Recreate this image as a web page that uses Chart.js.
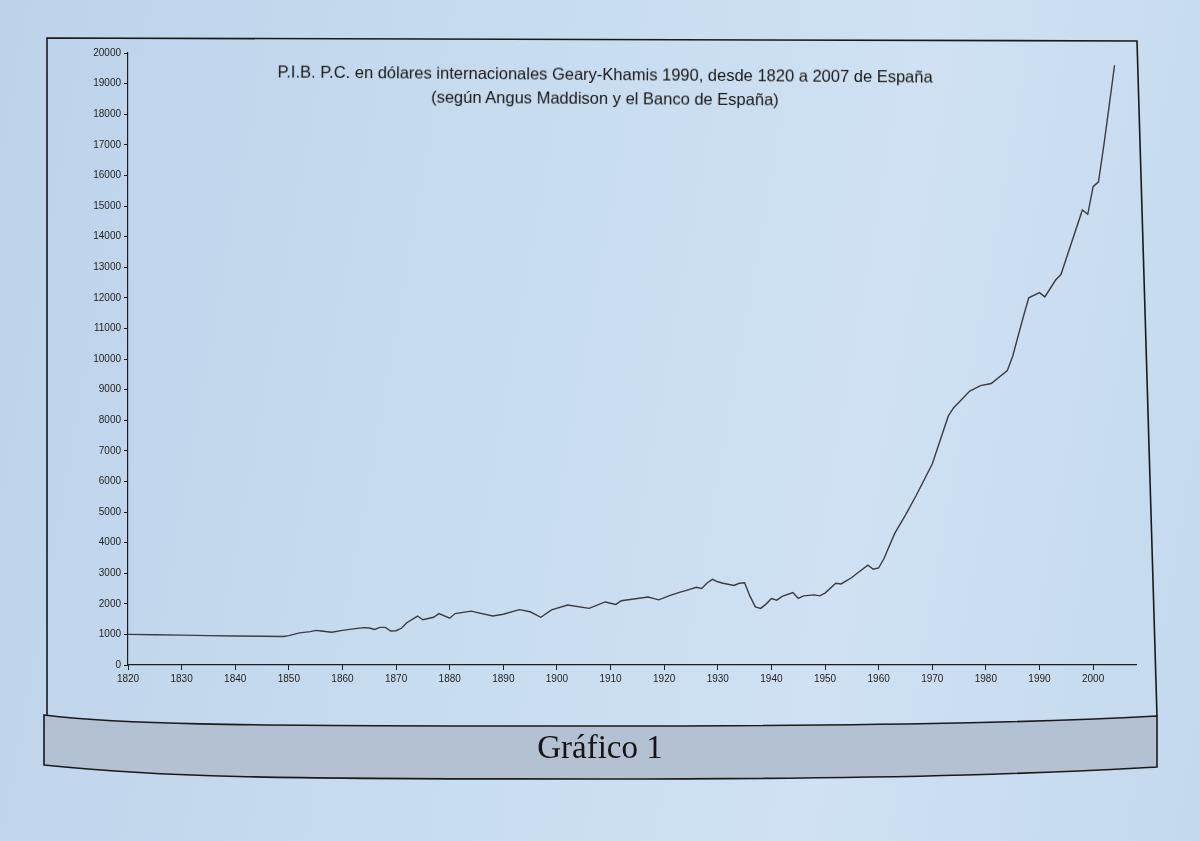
<!DOCTYPE html>
<html>
<head>
<meta charset="utf-8">
<script src="https://cdn.jsdelivr.net/npm/chart.js@4"></script>
<style>
  html, body { margin: 0; padding: 0; }
  body {
    width: 1200px; height: 841px; overflow: hidden; position: relative;
    background: linear-gradient(100deg, #bdd3ea 0%, #c9ddf0 45%, #cfe1f3 70%, #c4d9ee 100%);
  }
  #deco { position: absolute; left: 0; top: 0; }
  #chart { position: absolute; left: 0; top: 0; }
  .title {
    position: absolute; left: 205px; top: 62px; width: 800px;
    text-align: center; font-family: "Liberation Sans", Arial, sans-serif;
    font-size: 16.5px; line-height: 24px; color: #161616;
    transform: rotate(0.45deg);
  }
  .caption {
    position: absolute; left: 400px; top: 729px; width: 400px; text-align: center;
    font-family: "Liberation Serif", "DejaVu Serif", serif; font-size: 33px; color: #151515;
  }
</style>
</head>
<body>
<svg id="deco" width="1200" height="841">
  <polyline points="47,717 47,38 1137,41 1157,716" fill="none" stroke="#1a1a1a" stroke-width="1.6"/>
  <path d="M 44 715 C 120 724, 200 726, 600 726 C 950 726, 1080 720, 1157 716 L 1157 767 C 1080 771, 950 779, 600 779 C 260 779, 160 777, 44 765 Z"
        fill="#b4c1d3" stroke="#1a1a1a" stroke-width="1.6"/>
</svg>
<canvas id="chart" width="1200" height="841"></canvas>
<div class="title">P.I.B. P.C. en dólares internacionales Geary-Khamis 1990, desde 1820 a 2007 de España<br>(según Angus Maddison y el Banco de España)</div>
<div class="caption">Gráfico 1</div>
<script>
// PIB per capita de España (dólares G-K 1990)
const years = [
  1820, 1825, 1830, 1835, 1840, 1845, 1849, 1850, 1852, 1854, 1855, 1856, 1858, 1860,
  1862, 1864, 1865, 1866, 1867, 1868, 1869, 1870, 1871, 1872, 1874, 1875, 1877, 1878,
  1880, 1881, 1884, 1888, 1890, 1893, 1895, 1897, 1899, 1902, 1906, 1909, 1911, 1912,
  1914, 1917, 1919, 1921, 1923, 1924, 1926, 1927, 1928, 1929, 1930, 1931, 1933, 1934,
  1935, 1936, 1937, 1938, 1939, 1940, 1941, 1942, 1944, 1945, 1946, 1948, 1949, 1950,
  1952, 1953, 1955, 1956, 1958, 1959, 1960, 1961, 1963, 1965, 1967, 1970, 1973, 1974,
  1977, 1979, 1981, 1984, 1985, 1987, 1988, 1990, 1991, 1993, 1994, 1998, 1999, 2000,
  2001, 2002, 2003, 2004
];
const pibpc = [
  1000, 990, 975, 960, 950, 940, 930, 960, 1050, 1090, 1130, 1110, 1070, 1130,
  1180, 1220, 1210, 1160, 1230, 1230, 1110, 1120, 1200, 1380, 1600, 1480, 1560, 1680,
  1530, 1680, 1760, 1600, 1660, 1810, 1740, 1560, 1800, 1960, 1850, 2060, 1980, 2100,
  2150, 2220, 2130, 2270, 2380, 2430, 2540, 2500, 2680, 2800, 2720, 2670, 2600, 2670,
  2690, 2250, 1900, 1850, 1990, 2170, 2120, 2240, 2370, 2180, 2260, 2290, 2260, 2350,
  2670, 2650, 2860, 3000, 3260, 3130, 3170, 3480, 4300, 4900, 5540, 6570, 8140, 8410,
  8950, 9130, 9200, 9620, 10090, 11390, 12000, 12170, 12030, 12580, 12760, 14870, 14730, 15630,
  15790, 16980, 18280, 19600
];
const xTickYears = [1820, 1830, 1840, 1850, 1860, 1870, 1880, 1890, 1900, 1910,
                    1920, 1930, 1940, 1950, 1960, 1970, 1980, 1990, 2000];
const yMin = 0, yMax = 20000, yStep = 1000;

const tickFont = { family: 'Liberation Sans, Arial, sans-serif', size: 10 };
const ink = '#1e1e1e';

const ctx = document.getElementById('chart').getContext('2d');
new Chart(ctx, {
    type: 'line',
    data: {
        datasets: [{
            data: years.map((y, i) => ({ x: y, y: pibpc[i] })),
            borderColor: '#3c3c40',
            borderWidth: 1.4,
            pointRadius: 0,
            tension: 0
        }]
    },
    options: {
        responsive: false,
        animation: false,
        layout: { padding: { left: 78, top: 53, right: 64, bottom: 146 } },
        plugins: {
            legend: { display: false },
            tooltip: { enabled: false }
        },
        scales: {
            x: {
                type: 'linear',
                min: 1820,
                max: 2008,
                afterBuildTicks: (scale) => { scale.ticks = xTickYears.map(v => ({ value: v })); },
                afterFit: (scale) => { scale.height = 30; },
                grid: { drawOnChartArea: false, tickLength: 5, color: ink },
                border: { color: ink, width: 1.2 },
                ticks: {
                    font: tickFont, color: ink, padding: 3, maxRotation: 0, autoSkip: false,
                    callback: (v) => String(v)
                }
            },
            y: {
                min: yMin,
                max: yMax,
                afterFit: (scale) => { scale.width = 50; },
                grid: { drawOnChartArea: false, tickLength: 4, color: ink },
                border: { color: ink, width: 1.2 },
                ticks: {
                    stepSize: yStep, font: tickFont, color: ink, padding: 3,
                    callback: (v) => String(v)
                }
            }
        }
    }
});
</script>
</body>
</html>
